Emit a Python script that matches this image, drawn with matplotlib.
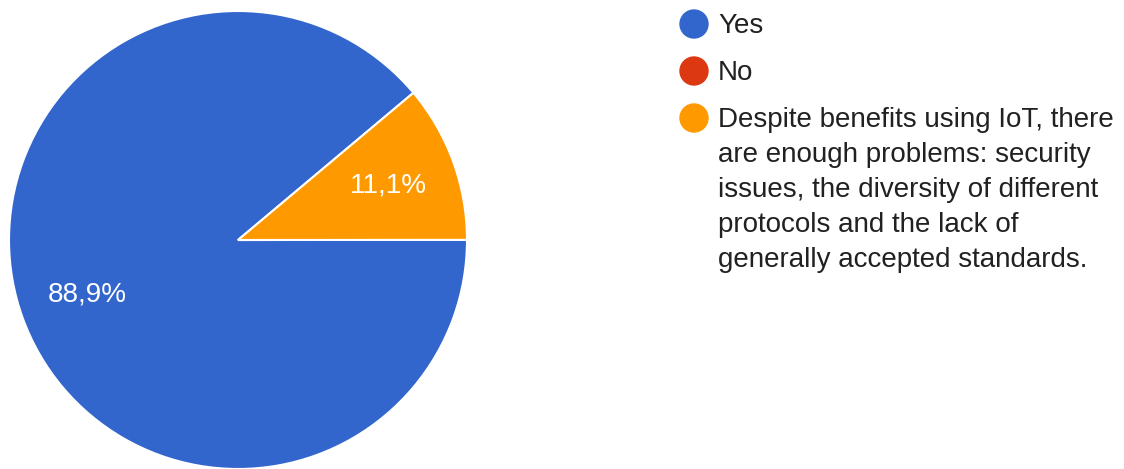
import matplotlib
matplotlib.use("Agg")
import matplotlib.pyplot as plt
from matplotlib.patches import Ellipse

labels = ["Yes", "No",
          "Despite benefits using IoT, there\nare enough problems: security\nissues, the diversity of different\nprotocols and the lack of\ngenerally accepted standards."]
values = [88.9, 0.0, 11.1]
colors = ["#3366cc", "#dc3912", "#ff9900"]

plt.rcParams["font.family"] = ["Liberation Sans", "DejaVu Sans"]

W, H = 1124, 469
dpi = 100
fig = plt.figure(figsize=(W / dpi, H / dpi), dpi=dpi)

# pie: centre (238, 240) px, radius 229 px
cx, cy, r = 238, 240, 229
ax = fig.add_axes([(cx - r) / W, (H - cy - r) / H, 2 * r / W, 2 * r / H])


def pct(p):
    return f"{p:.1f}%".replace(".", ",") if p >= 1 else ""


wedges, texts, autotexts = ax.pie(
    values, colors=colors, startangle=40, counterclock=True,
    autopct=pct, pctdistance=0.70,
    wedgeprops=dict(edgecolor="white", linewidth=1.5),
    textprops=dict(color="white", fontsize=20))
ax.set_xlim(-1, 1)
ax.set_ylim(-1, 1)
ax.set_aspect("equal")
ax.axis("off")

# legend drawn by hand
lx_marker, lx_text = 694, 718
rows_y = [24, 71, 118]
for lab, col, y in zip(labels, colors, rows_y):
    fig.add_artist(Ellipse((lx_marker / W, 1 - y / H), 28 / W, 28 / H,
                           transform=fig.transFigure, color=col))
    fig.text(lx_text / W, 1 - (y - 11) / H, lab, ha="left", va="top",
             fontsize=20, color="#212121", linespacing=1.45)

fig.savefig("out.png", dpi=dpi)
